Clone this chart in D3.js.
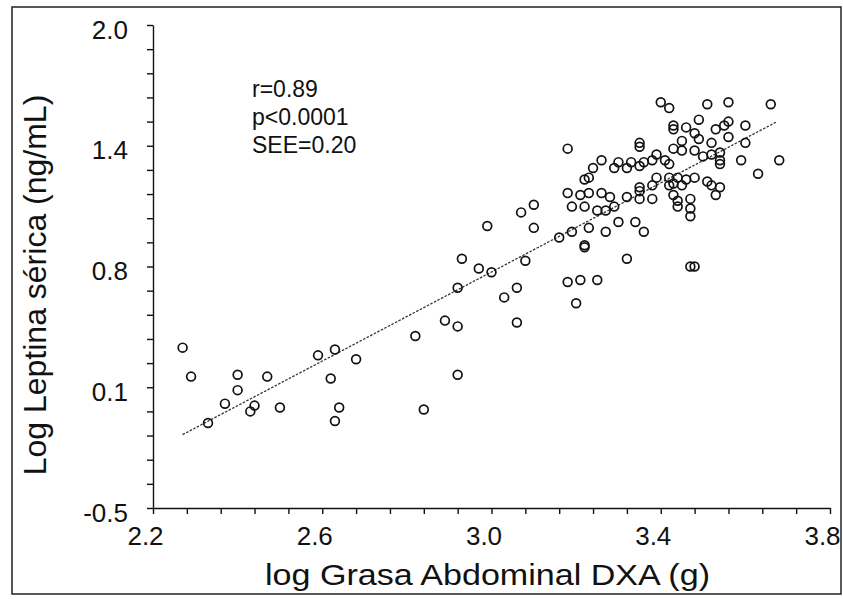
<!DOCTYPE html>
<html>
<head>
<meta charset="utf-8">
<script src="https://cdn.jsdelivr.net/npm/d3@7"></script>
<style>
  body { margin: 0; background: #fff; }
  svg text { font-family: "Liberation Sans", Arial, sans-serif; fill: #111; }
</style>
</head>
<body>
<div id="chart"></div>
<script>
// log abdominal fat (DXA, g) and log serum leptin (ng/mL)
var fatLog = [
  2.27, 2.29, 2.33, 2.37, 2.40, 2.40, 2.44, 2.43, 2.47, 2.50,
  2.59, 2.63, 2.68, 2.62, 2.64, 2.63, 2.82, 2.84, 2.89, 2.92,
  2.92, 2.92,
  2.93, 2.97, 3.00, 2.99, 3.03, 3.06, 3.06, 3.07, 3.10, 3.10,
  3.08, 3.16, 3.18, 3.21, 3.25, 3.20, 3.19, 3.23, 3.22, 3.22,
  3.27, 3.30, 3.34, 3.36, 3.32, 3.47, 3.48,
  3.18, 3.19, 3.22, 3.25, 3.27, 3.29, 3.44, 3.47, 3.47,
  3.18, 3.21, 3.23, 3.26, 3.28, 3.32, 3.35, 3.38, 3.43, 3.44, 3.47,
  3.22, 3.23, 3.24, 3.26, 3.29, 3.30, 3.32, 3.33, 3.35, 3.36,
  3.35, 3.35, 3.35, 3.35, 3.38, 3.42, 3.43, 3.45,
  3.39, 3.42, 3.44, 3.46, 3.48, 3.51, 3.52, 3.54, 3.53,
  3.39, 3.38, 3.41, 3.42, 3.43, 3.45, 3.48, 3.52, 3.54, 3.50,
  3.54, 3.54, 3.59, 3.68, 3.63,
  3.49, 3.45, 3.52, 3.56, 3.60,
  3.43, 3.43, 3.46, 3.48, 3.49, 3.55, 3.56, 3.60, 3.53,
  3.40, 3.42, 3.51, 3.56, 3.66
];
var leptinLog = [
  0.33, 0.18, -0.06, 0.04, 0.19, 0.11, 0.03, 0.00, 0.18, 0.02,
  0.29, 0.32, 0.27, 0.17, 0.02, -0.05, 0.39, 0.01, 0.47, 0.44,
  0.19, 0.64,
  0.79, 0.74, 0.72, 0.96, 0.59, 0.64, 0.46, 1.03, 1.07, 0.95,
  0.78, 0.90, 0.67, 0.68, 0.68, 0.56, 0.93, 0.95, 0.86, 0.85,
  0.93, 0.98, 0.98, 0.93, 0.79, 0.75, 0.75,
  1.36, 1.06, 1.06, 1.04, 1.04, 1.06, 1.06, 1.05, 1.01,
  1.13, 1.12, 1.13, 1.13, 1.11, 1.11, 1.10, 1.10, 1.12, 1.09, 1.10,
  1.20, 1.21, 1.26, 1.30, 1.26, 1.29, 1.26, 1.29, 1.27, 1.29,
  1.39, 1.37, 1.14, 1.16, 1.17, 1.17, 1.18, 1.17,
  1.21, 1.21, 1.21, 1.20, 1.21, 1.19, 1.17, 1.16, 1.12,
  1.33, 1.30, 1.30, 1.28, 1.36, 1.35, 1.35, 1.33, 1.34, 1.32,
  1.30, 1.28, 1.30, 1.30, 1.23,
  1.41, 1.40, 1.39, 1.42, 1.39,
  1.48, 1.46, 1.47, 1.44, 1.51, 1.48, 1.50, 1.48, 1.46,
  1.60, 1.57, 1.59, 1.60, 1.59
];

// regression line end points
var fitX = [2.27, 3.675];
var fitY = [-0.12, 1.50];

var xMajor = [2.2, 2.6, 3.0, 3.4, 3.8];
var xTickLabels = ["2.2", "2.6", "3.0", "3.4", "3.8"];
var yMajor = [-0.5, 0.125, 0.75, 1.375, 2.0];
var yTickLabels = ["-0.5", "0.1", "0.8", "1.4", "2.0"];
var stats = ["r=0.89", "p<0.0001", "SEE=0.20"];

var width = 843, height = 599;
var svg = d3.select("#chart").append("svg")
    .attr("width", width)
    .attr("height", height);

// scanned figure frame
svg.append("rect")
    .attr("x", 12).attr("y", 7)
    .attr("width", 829).attr("height", 587)
    .attr("fill", "none")
    .attr("stroke", "#222")
    .attr("stroke-width", 1.5);

var x = d3.scaleLinear().domain([2.2, 3.8]).range([153, 830]);
var y = d3.scaleLinear().domain([-0.5, 2.0]).range([508, 25]);

var xMinor = d3.range(0, 21).map(function (i) { return 2.2 + i * 0.08; });
var yMinor = d3.range(0, 21).map(function (i) { return -0.5 + i * 0.125; });

// x axis: line + ticks
svg.append("g")
    .attr("transform", "translate(0," + y(-0.5) + ")")
    .call(d3.axisBottom(x).tickValues(xMinor).tickSize(6).tickSizeOuter(0).tickFormat(""));
var gxl = svg.append("g")
    .attr("transform", "translate(0," + y(-0.5) + ")")
    .call(d3.axisBottom(x).tickValues(xMajor).tickSize(0).tickPadding(19)
        .tickFormat(function (d, i) { return xTickLabels[i]; }));
gxl.select(".domain").remove();
gxl.selectAll("text")
    .attr("dx", -8)
    .style("font-size", "26px")
    .style("font-family", "'Liberation Sans', Arial, sans-serif");

// y axis
svg.append("g")
    .attr("transform", "translate(" + x(2.2) + ",0)")
    .call(d3.axisLeft(y).tickValues(yMinor).tickSize(6).tickSizeOuter(0).tickFormat(""));
var gyl = svg.append("g")
    .attr("transform", "translate(" + x(2.2) + ",0)")
    .call(d3.axisLeft(y).tickValues(yMajor).tickSize(0).tickPadding(25)
        .tickFormat(function (d, i) { return yTickLabels[i]; }));
gyl.select(".domain").remove();
gyl.selectAll("text")
    .attr("dy", "0.5em")
    .style("font-size", "26px")
    .style("font-family", "'Liberation Sans', Arial, sans-serif");

svg.selectAll(".domain, .tick line")
    .attr("stroke", "#111")
    .attr("stroke-width", 1.4);

// fit line
var line = d3.line()
    .x(function (d) { return x(d[0]); })
    .y(function (d) { return y(d[1]); });
svg.append("path")
    .datum(d3.zip(fitX, fitY))
    .attr("d", line)
    .attr("fill", "none")
    .attr("stroke", "#333")
    .attr("stroke-width", 1.3)
    .attr("stroke-dasharray", "2.5,1.5");

// points
svg.append("g").selectAll("circle")
    .data(d3.zip(fatLog, leptinLog))
    .enter().append("circle")
    .attr("cx", function (d) { return x(d[0]); })
    .attr("cy", function (d) { return y(d[1]); })
    .attr("r", 4.4)
    .attr("fill", "none")
    .attr("stroke", "#111")
    .attr("stroke-width", 1.7);

// stats text
svg.append("g").selectAll("text")
    .data(stats)
    .enter().append("text")
    .attr("x", 252)
    .attr("y", function (d, i) { return 97 + i * 28; })
    .style("font-size", "23px")
    .text(function (d) { return d; });

// axis titles
svg.append("text")
    .attr("x", 265)
    .attr("y", 585)
    .attr("textLength", 445)
    .attr("lengthAdjust", "spacingAndGlyphs")
    .style("font-size", "30px")
    .text("log Grasa Abdominal DXA (g)");

svg.append("text")
    .attr("transform", "translate(46,285) rotate(-90)")
    .attr("text-anchor", "middle")
    .style("font-size", "32px")
    .text("Log Leptina sérica (ng/mL)");
</script>
</body>
</html>
